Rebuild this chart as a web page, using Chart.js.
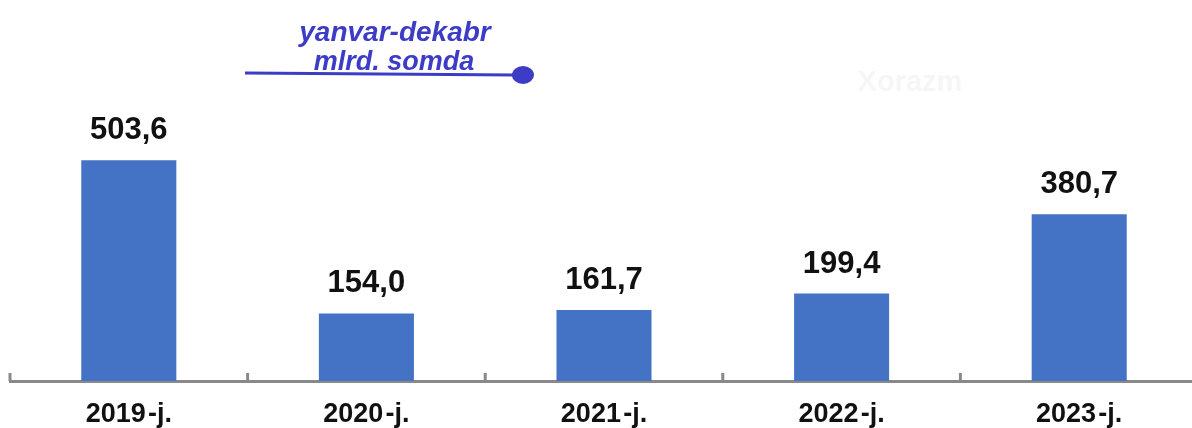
<!DOCTYPE html>
<html>
<head>
<meta charset="utf-8">
<script src="https://cdn.jsdelivr.net/npm/chart.js@4/dist/chart.umd.min.js"></script>
<style>
  html, body { margin: 0; padding: 0; background: #fff; overflow: hidden; }
  #wrap { position: relative; width: 1198px; height: 428px; }
</style>
</head>
<body>
<div id="wrap"><canvas id="barChart"></canvas></div>
<script>
const years = ['2019\u200A-j.', '2020\u200A-j.', '2021\u200A-j.', '2022\u200A-j.', '2023\u200A-j.'];
const values = [503.6, 154.0, 161.7, 199.4, 380.7];
const titleLines = ['yanvar-dekabr', 'mlrd. somda'];
const regionName = 'Xorazm';

const barBlue = '#4472C4';
const titleBlue = '#3c3cc6';

// value labels above bars
const valueLabels = {
  id: 'valueLabels',
  afterDatasetsDraw(chart) {
    const ctx = chart.ctx;
    const meta = chart.getDatasetMeta(0);
    ctx.save();
    ctx.font = 'bold 31px "Liberation Sans", Arial, sans-serif';
    ctx.fillStyle = '#111';
    ctx.textAlign = 'center';
    ctx.textBaseline = 'alphabetic';
    meta.data.forEach((bar, i) => {
      ctx.fillText(values[i].toFixed(1).replace('.', ','), bar.x, bar.y - 21);
    });
    ctx.restore();
  }
};

// small upward ticks on the axis between categories
const axisTicks = {
  id: 'axisTicks',
  afterDraw(chart) {
    const x = chart.scales.x;
    const ctx = chart.ctx;
    const half = (x.getPixelForValue(1) - x.getPixelForValue(0)) / 2;
    const bottom = chart.chartArea.bottom;
    ctx.save();
    ctx.strokeStyle = '#898989';
    ctx.lineWidth = 3;
    for (let i = 0; i <= years.length; i++) {
      const px = x.getPixelForValue(i) - half;
      ctx.beginPath();
      ctx.moveTo(px, bottom - 8);
      ctx.lineTo(px, bottom);
      ctx.stroke();
    }
    ctx.restore();
  }
};

// title block with underline and dot, plus faint region name
const titleBlock = {
  id: 'titleBlock',
  afterDraw(chart) {
    const ctx = chart.ctx;
    ctx.save();
    ctx.fillStyle = '#f6f6f6';
    ctx.font = 'bold 29px "Liberation Sans", Arial, sans-serif';
    ctx.textAlign = 'center';
    ctx.fillText(regionName, 910, 91);

    ctx.fillStyle = titleBlue;
    ctx.font = 'italic bold 28px "Liberation Sans", Arial, sans-serif';
    ctx.fillText(titleLines[0], 395, 41);
    ctx.font = 'italic bold 27px "Liberation Sans", Arial, sans-serif';
    ctx.fillText(titleLines[1], 394, 70);

    ctx.strokeStyle = titleBlue;
    ctx.lineWidth = 3;
    ctx.beginPath();
    ctx.moveTo(245, 73);
    ctx.lineTo(515, 75);
    ctx.stroke();
    ctx.beginPath();
    ctx.ellipse(523, 75, 11, 9, 0, 0, Math.PI * 2);
    ctx.fill();
    ctx.restore();
  }
};

new Chart(document.getElementById('barChart'), {
  type: 'bar',
  data: {
    labels: years,
    datasets: [{
      label: 'Xorazm',
      data: values,
      backgroundColor: barBlue,
      barPercentage: 0.4,
      categoryPercentage: 1.0
    }]
  },
  options: {
    responsive: true,
    maintainAspectRatio: false,
    animation: false,
    layout: { padding: { left: 10, right: 0, top: 118, bottom: 0 } },
    plugins: {
      legend: { display: false },
      tooltip: { enabled: false }
    },
    scales: {
      x: {
        grid: { display: false },
        border: { display: true, color: '#898989', width: 3 },
        afterFit(scale) { scale.height = 47; },
        ticks: {
          color: '#111',
          padding: 9,
          maxRotation: 0,
          font: { family: '"Liberation Sans", Arial, sans-serif', size: 27, weight: 'bold' }
        }
      },
      y: {
        display: false,
        min: 0,
        max: 600
      }
    }
  },
  plugins: [valueLabels, axisTicks, titleBlock]
});
</script>
</body>
</html>
